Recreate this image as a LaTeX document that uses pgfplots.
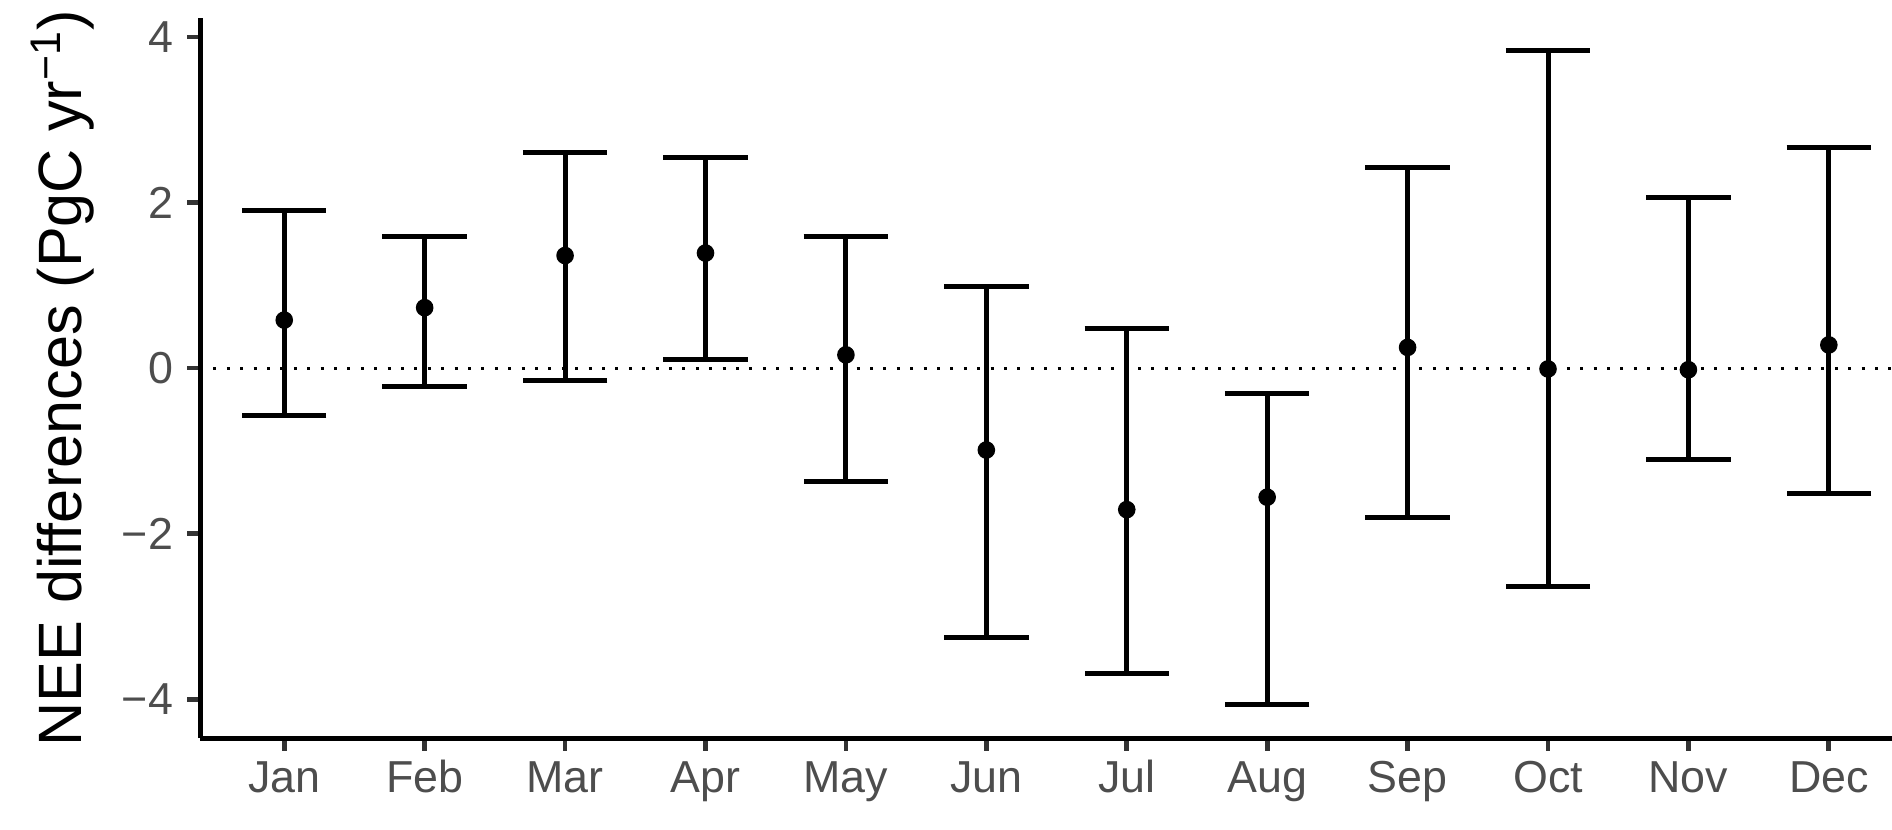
\documentclass[border=0pt]{standalone}
\usepackage{fontspec}
\setmainfont{Liberation Sans}
\usepackage{pgfplots}
\usepackage{pgfplotstable}
\pgfplotsset{compat=1.18}
\definecolor{ticklab}{HTML}{4D4D4D}
\definecolor{tickc}{HTML}{333333}
\pgfplotstableread{
x y ep em
1 0.58 1.33 1.15
2 0.73 0.86 0.95
3 1.36 1.25 1.51
4 1.39 1.15 1.29
5 0.16 1.43 1.53
6 -0.99 1.97 2.27
7 -1.71 2.19 1.98
8 -1.56 1.25 2.51
9 0.25 2.17 2.06
10 -0.01 3.85 2.63
11 -0.02 2.08 1.09
12 0.28 2.39 1.80
}\nee
\begin{document}
\begin{tikzpicture}
\begin{axis}[
  at={(0,0)}, anchor=south west,
  scale only axis, width=423pt, height=180pt,
  xmin=0.4, xmax=12.45, ymin=-4.47, ymax=4.23,
  axis x line=bottom, axis y line=left,
  axis line style={-, line width=1.25pt, black},
  tick align=outside, major tick length=3.2pt,
  tick style={tickc, line width=1.2pt},
  minor tick num=0,
  xtick={1,...,12},
  xticklabels={Jan,Feb,Mar,Apr,May,Jun,Jul,Aug,Sep,Oct,Nov,Dec},
  ytick={-4,-2,0,2,4},
  yticklabels={−4,−2,0,2,4},
  tick label style={font=\fontsize{11.2}{13}\selectfont, text=ticklab},
  xticklabel style={text height=8.1pt, text depth=2.4pt, inner sep=2pt},
  ylabel={NEE differences (PgC yr\textsuperscript{−1})},
  ylabel style={font=\fontsize{15.3}{18}\selectfont, at={(axis description cs:-0.081,0.5)}, anchor=center},
]
\addplot[black, line width=0.75pt, dash pattern=on 0.75pt off 2.6pt] coordinates {(0.4,0) (12.45,0)};
\addplot[only marks, mark=*, mark size=2pt, black,
  error bars/.cd, y dir=both, y explicit,
  error bar style={line width=1.25pt, black},
  error mark options={rotate=90, mark size=10.55pt, line width=1.25pt, black}]
  table[x=x, y=y, y error plus=ep, y error minus=em] {\nee};
\end{axis}
\pgfresetboundingbox
\useasboundingbox (-50pt,-22.75pt) rectangle (423pt,184.5pt);
\end{tikzpicture}
\end{document}
